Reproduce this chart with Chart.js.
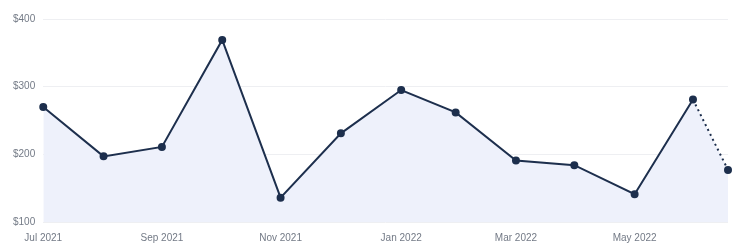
<!DOCTYPE html>
<html>
<head>
<meta charset="utf-8">
<script src="https://cdn.jsdelivr.net/npm/chart.js@4"></script>
<style>
  html, body { margin: 0; padding: 0; background: #fff; }
  .wrap { width: 750px; height: 250px; }
</style>
</head>
<body>
<div class="wrap"><canvas id="chart" width="750" height="250"></canvas></div>
<script>
// month-end dates, last one is the partial current month
const dates = [
  '2021-07-31', '2021-08-31', '2021-09-30', '2021-10-31', '2021-11-30', '2021-12-31',
  '2022-01-31', '2022-02-28', '2022-03-31', '2022-04-30', '2022-05-31', '2022-06-30',
  '2022-07-18',
];
const amounts = [270, 197, 211, 369, 136, 231, 295, 262, 191, 184, 141, 281, 177];

const tickDates = ['2021-07-31', '2021-09-30', '2021-11-30', '2022-01-31', '2022-03-31', '2022-05-31'];
const tickLabels = ['Jul 2021', 'Sep 2021', 'Nov 2021', 'Jan 2022', 'Mar 2022', 'May 2022'];

const DAY = 86400000;
const toDay = (s) => Date.parse(s + 'T00:00:00Z') / DAY;

const points = dates.map((d, i) => ({ x: toDay(d), y: amounts[i] }));
const tickDays = tickDates.map(toDay);
const last = points.length - 1;

const lineColor = '#1d2f4d';
const textColor = '#737a86';

new Chart(document.getElementById('chart'), {
  type: 'line',
  data: {
    datasets: [
      {
        label: 'Amount',
        data: points,
        borderColor: lineColor,
        backgroundColor: '#eef1fb',
        borderWidth: 2,
        pointRadius: 3,
        pointBackgroundColor: lineColor,
        pointBorderColor: lineColor,
        tension: 0,
        fill: 'start',
        clip: false,
        segment: {
          borderDash: (ctx) => (ctx.p1DataIndex === last ? [2, 3.5] : undefined),
        },
      },
    ],
  },
  options: {
    responsive: false,
    animation: false,
    layout: { padding: { left: 5, right: 22, top: 19, bottom: 4 } },
    plugins: {
      legend: { display: false },
      tooltip: { enabled: false },
    },
    scales: {
      x: {
        type: 'linear',
        min: points[0].x,
        max: points[last].x,
        afterBuildTicks: (scale) => {
          scale.ticks = tickDays.map((v) => ({ value: v }));
        },
        grid: { display: false },
        border: { display: false },
        ticks: {
          color: textColor,
          padding: 2,
          font: { family: 'Liberation Sans', size: 10 },
          maxRotation: 0,
          autoSkip: false,
          callback: (v) => tickLabels[tickDays.indexOf(v)],
        },
      },
      y: {
        min: 100,
        max: 400,
        grid: { color: '#eeeff2', drawTicks: false },
        border: { display: false },
        ticks: {
          stepSize: 100,
          padding: 8,
          color: textColor,
          font: { family: 'Liberation Sans', size: 10 },
          callback: (v) => '$' + v,
        },
      },
    },
  },
});
</script>
</body>
</html>
